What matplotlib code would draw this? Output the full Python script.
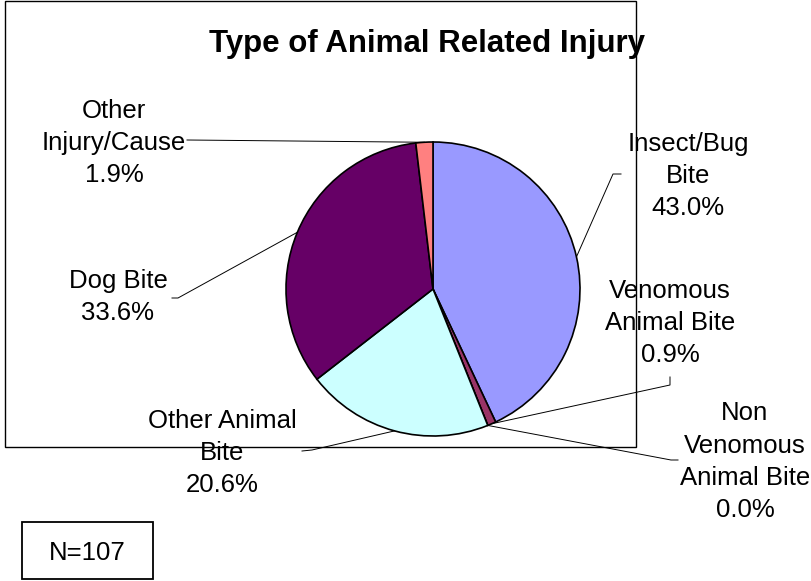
import matplotlib.pyplot as plt
from matplotlib.patches import Rectangle
import numpy as np

plt.rcParams['font.family'] = ['Liberation Sans', 'DejaVu Sans']

# data
categories = ['Insect/Bug\nBite', 'Venomous\nAnimal Bite', 'Non\nVenomous\nAnimal Bite',
              'Other Animal\nBite', 'Dog Bite', 'Other\nInjury/Cause']
counts = [46, 1, 0, 22, 36, 2]
colors = ['#9999FF', '#993366', '#FFFFCC', '#CCFFFF', '#660066', '#FF8080']
n_total = sum(counts)

# label layout in pixels: text anchor (center x, last-line baseline) and leader line points
label_xy = [(688, 215), (670, 362), (745, 517), (222, 492), (118, 320), (114, 182)]
leaders = [
    [(621, 174), (613, 174)],
    [(670, 377), (670, 385)],
    [(678, 460), (671, 460)],
    [(302, 451), (312, 450)],
    [(172, 298), (178, 298)],
    [(187, 140)],
]

W, H = 812, 581
cx, cy, r = 433, 289, 147

fig = plt.figure(figsize=(W / 100, H / 100), dpi=100)
ax = fig.add_axes([0, 0, 1, 1])

# y axis points down so the pie goes clockwise from 12 o'clock
wedges, _ = ax.pie(counts, colors=colors, startangle=-90, counterclock=True,
                   center=(cx, cy), radius=r,
                   wedgeprops=dict(edgecolor='black', linewidth=1.2))
ax.set_xlim(0, W)
ax.set_ylim(H, 0)
ax.axis('off')

for w, name, c, (tx, ty), pts in zip(wedges, categories, counts, label_xy, leaders):
    mid = np.deg2rad((w.theta1 + w.theta2) / 2)
    rim = (cx + r * np.cos(mid), cy + r * np.sin(mid))
    xs = [p[0] for p in pts] + [rim[0]]
    ys = [p[1] for p in pts] + [rim[1]]
    ax.plot(xs, ys, color='black', lw=0.7, zorder=3)
    ax.text(tx, ty, f'{name}\n{100 * c / n_total:.1f}%', ha='center', va='baseline',
            multialignment='center', fontsize=18.5, linespacing=1.43, zorder=4)

# chart frame
ax.add_patch(Rectangle((5, 1), 631, 446, fill=False, edgecolor='black', lw=1, zorder=5))

ax.text(427.5, 52, 'Type of Animal Related Injury', ha='center', va='baseline',
        fontsize=22.5, fontweight='bold', zorder=4)

# N box
ax.add_patch(Rectangle((22, 522), 131, 57, fill=False, edgecolor='black', lw=1.3, zorder=5))
ax.text(87.5, 560, f'N={n_total}', ha='center', va='baseline', fontsize=18.5, zorder=4)

fig.savefig('out.png', dpi=100)
